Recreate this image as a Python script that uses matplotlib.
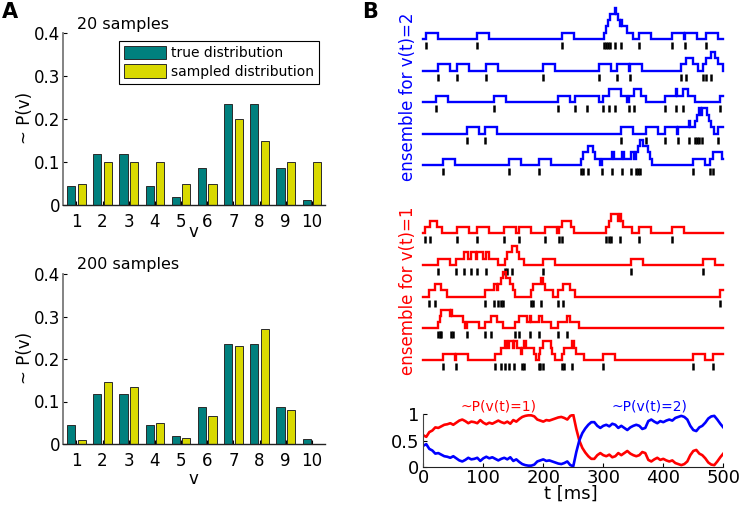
import numpy as np
import matplotlib
matplotlib.use('Agg')
import matplotlib.pyplot as plt

W, H = 742, 516

# ---------------- Panel A data ----------------
categories = [1, 2, 3, 4, 5, 6, 7, 8, 9, 10]
true_dist = [0.044, 0.118, 0.118, 0.044, 0.018, 0.087, 0.236, 0.236, 0.087, 0.012]
sampled_20 = [0.05, 0.10, 0.10, 0.10, 0.05, 0.05, 0.20, 0.15, 0.10, 0.10]
sampled_200 = [0.010, 0.145, 0.135, 0.050, 0.015, 0.065, 0.230, 0.270, 0.080, 0.0]
yticks_A = [0, 0.1, 0.2, 0.3, 0.4]
ytick_labels_A = ['0', '0.1', '0.2', '0.3', '0.4']

# ---------------- Panel B data ----------------
spikes_v2 = [
    [4, 89, 231, 301, 304, 308, 311, 320, 329, 360, 415, 436, 471],
    [24, 56, 104, 200, 292, 323, 345, 429, 438, 466, 471, 480],
    [21, 118, 224, 253, 273, 300, 310, 320, 343, 351, 402, 421, 432, 494],
    [72, 103, 329, 371, 403, 425, 442, 452, 456, 460, 464, 491],
    [33, 143, 193, 262, 266, 274, 298, 315, 331, 346, 354, 358, 361, 449, 478, 483],
]
spikes_v1 = [
    [3, 11, 56, 89, 135, 160, 202, 226, 231, 305, 309, 312, 328, 360, 415],
    [24, 54, 68, 80, 90, 104, 136, 140, 147, 200, 346, 466],
    [10, 19, 102, 118, 124, 129, 133, 180, 183, 196, 224, 233, 494],
    [24, 27, 30, 46, 50, 72, 102, 113, 153, 160, 177, 193, 224, 239],
    [33, 54, 119, 129, 136, 143, 151, 164, 168, 192, 195, 199, 231, 235, 247, 299, 449, 482],
]
box_ms = 20

t_ms = list(range(0, 501, 5))
p_v1 = [0.60, 0.57, 0.66, 0.69, 0.75, 0.74, 0.77, 0.80, 0.81, 0.83,
        0.80, 0.84, 0.88, 0.90, 0.87, 0.83, 0.86, 0.85, 0.83, 0.89,
        0.84, 0.81, 0.84, 0.82, 0.85, 0.88, 0.85, 0.83, 0.86, 0.82,
        0.89, 0.86, 0.91, 0.95, 0.97, 0.98, 0.98, 0.96, 0.90, 0.88,
        0.86, 0.89, 0.88, 0.90, 0.92, 0.94, 0.95, 0.93, 0.90, 0.97,
        0.99, 0.72, 0.50, 0.36, 0.27, 0.20, 0.15, 0.15, 0.22, 0.26,
        0.22, 0.20, 0.23, 0.18, 0.20, 0.26, 0.22, 0.26, 0.30, 0.25,
        0.22, 0.20, 0.22, 0.28, 0.26, 0.13, 0.10, 0.14, 0.17, 0.13,
        0.15, 0.12, 0.10, 0.12, 0.07, 0.05, 0.03, 0.05, 0.10, 0.22,
        0.30, 0.32, 0.25, 0.22, 0.16, 0.08, 0.04, 0.03, 0.10, 0.18,
        0.25]
p_v2 = [0.40, 0.43, 0.34, 0.31, 0.25, 0.26, 0.23, 0.20, 0.19, 0.17,
        0.20, 0.16, 0.12, 0.10, 0.13, 0.17, 0.14, 0.15, 0.17, 0.11,
        0.16, 0.19, 0.16, 0.18, 0.15, 0.12, 0.15, 0.17, 0.14, 0.18,
        0.11, 0.14, 0.09, 0.05, 0.03, 0.02, 0.02, 0.04, 0.10, 0.12,
        0.14, 0.11, 0.12, 0.10, 0.08, 0.06, 0.05, 0.07, 0.10, 0.03,
        0.01, 0.28, 0.50, 0.64, 0.73, 0.80, 0.85, 0.85, 0.78, 0.74,
        0.78, 0.80, 0.77, 0.82, 0.80, 0.74, 0.78, 0.74, 0.70, 0.75,
        0.78, 0.80, 0.78, 0.72, 0.74, 0.87, 0.90, 0.86, 0.83, 0.87,
        0.85, 0.88, 0.90, 0.88, 0.93, 0.95, 0.97, 0.95, 0.90, 0.78,
        0.70, 0.68, 0.75, 0.78, 0.84, 0.92, 0.96, 0.97, 0.90, 0.82,
        0.75]
xticks_B = [0, 100, 200, 300, 400, 500]
yticks_B = [0, 0.5, 1]
ytick_labels_B = ['0', '0.5', '1']

TEAL = '#00807e'
YELLOW = '#d9d900'
BLUE = '#0000ff'
RED = '#ff0000'

plt.rcParams['font.family'] = ['DejaVu Sans']
fig = plt.figure(figsize=(W / 100, H / 100), dpi=100)


def add_axes_px(x0, y0, x1, y1):
    return fig.add_axes([x0 / W, 1 - y1 / H, (x1 - x0) / W, (y1 - y0) / H])


def ftext(x, y, s, **kw):
    return fig.text(x / W, 1 - y / H, s, **kw)


def style_A(ax):
    ax.set_xlim(0.5, 10.5)
    ax.set_ylim(0, 0.4)
    ax.set_xticks(categories)
    ax.set_xticklabels([str(c) for c in categories])
    ax.set_yticks(yticks_A)
    ax.set_yticklabels(ytick_labels_A)
    ax.spines['top'].set_visible(False)
    ax.spines['right'].set_visible(False)
    ax.spines['left'].set_color('#7a7a7a')
    ax.spines['left'].set_linewidth(1.3)
    ax.spines['bottom'].set_color('#222222')
    ax.spines['bottom'].set_linewidth(1.0)
    ax.tick_params(direction='in', length=3, labelsize=12, width=0.8)
    ax.tick_params(axis='x', pad=5.5)
    ax.tick_params(axis='y', pad=2)


cats = np.array(categories, dtype=float)
off, bw = 0.2, 0.31

# Panel A top
axA1 = add_axes_px(63.3, 33.3, 325, 205)
axA1.bar(cats - off, true_dist, width=bw, color=TEAL, edgecolor='#2a2a2a',
         linewidth=0.7, label='true distribution')
axA1.bar(cats + off, sampled_20, width=bw, color=YELLOW, edgecolor='#2a2a2a',
         linewidth=0.7, label='sampled distribution')
style_A(axA1)
leg = axA1.legend(loc='upper right', bbox_to_anchor=(319.3 / W, 1 - 41 / H),
                  bbox_transform=fig.transFigure, borderaxespad=0, fancybox=False,
                  edgecolor='black', fontsize=10, handlelength=3.0, handleheight=1.1,
                  borderpad=0.35, labelspacing=0.3, handletextpad=0.4, framealpha=1)
leg.get_frame().set_linewidth(0.8)

# Panel A bottom
axA2 = add_axes_px(63.3, 274, 325, 444)
axA2.bar(cats - off, true_dist, width=bw, color=TEAL, edgecolor='#2a2a2a', linewidth=0.7)
axA2.bar(cats + off, sampled_200, width=bw, color=YELLOW, edgecolor='#2a2a2a', linewidth=0.7)
style_A(axA2)

ftext(77, 25, '20 samples', fontsize=11.5, ha='left', va='center')
ftext(77, 264, '200 samples', fontsize=11.5, ha='left', va='center')
ftext(25, 118, '~ P(v)', fontsize=12, rotation=90, ha='center', va='center')
ftext(25, 358, '~ P(v)', fontsize=12, rotation=90, ha='center', va='center')
ftext(193, 232, 'v', fontsize=12, ha='center', va='center')
ftext(193, 479, 'v', fontsize=12, ha='center', va='center')
ftext(10, 12, 'A', fontsize=15, fontweight='bold', ha='center', va='center')
ftext(370, 12, 'B', fontsize=15, fontweight='bold', ha='center', va='center')

# Panel B raster (pixel y coordinates)
axR = add_axes_px(423.3, 0, 723.3, 390)
axR.set_xlim(0, 500)
axR.set_ylim(390, 0)
axR.set_axis_off()

step_h = 6.3


def draw_rows(spike_rows, base0, spacing, color):
    for i, spikes in enumerate(spike_rows):
        base = base0 + spacing * i
        ev = sorted(set([0.0, 500.0] + [float(s) for s in spikes] +
                        [float(s + box_ms) for s in spikes if s + box_ms < 500]))
        counts = [sum(1 for s in spikes if s <= e < s + box_ms) for e in ev]
        ys = [base - step_h * c for c in counts]
        axR.plot(ev, ys, drawstyle='steps-post', color=color, lw=1.7,
                 solid_joinstyle='miter', clip_on=False)
        axR.vlines(spikes, base + 3, base + 10, color='black', lw=1.8)


draw_rows(spikes_v2, 39, 31.5, BLUE)
draw_rows(spikes_v1, 233.3, 31.7, RED)

ftext(408, 97, 'ensemble for v(t)=2', fontsize=12, rotation=90, color=BLUE,
      ha='center', va='center')
ftext(408, 291, 'ensemble for v(t)=1', fontsize=12, rotation=90, color=RED,
      ha='center', va='center')

# Panel B bottom: probabilities
axP = add_axes_px(423.3, 414.3, 723.3, 466.7)
axP.plot(t_ms, p_v1, color=RED, lw=1.9)
axP.plot(t_ms, p_v2, color=BLUE, lw=1.9)
axP.set_xlim(0, 500)
axP.set_ylim(0, 1)
axP.set_xticks(xticks_B)
axP.set_yticks(yticks_B)
axP.set_yticklabels(ytick_labels_B)
axP.spines['top'].set_visible(False)
axP.spines['right'].set_visible(False)
axP.spines['left'].set_color('#444444')
axP.spines['bottom'].set_color('#222222')
axP.tick_params(direction='in', length=3, labelsize=13, width=0.8)
axP.tick_params(axis='x', pad=1.5)
axP.tick_params(axis='y', pad=3)
ftext(571, 494, 't [ms]', fontsize=13, ha='center', va='center')
ftext(498, 406, '~P(v(t)=1)', fontsize=10, color=RED, ha='center', va='center')
ftext(649, 406, '~P(v(t)=2)', fontsize=10, color=BLUE, ha='center', va='center')

fig.savefig('out.png', dpi=100)
